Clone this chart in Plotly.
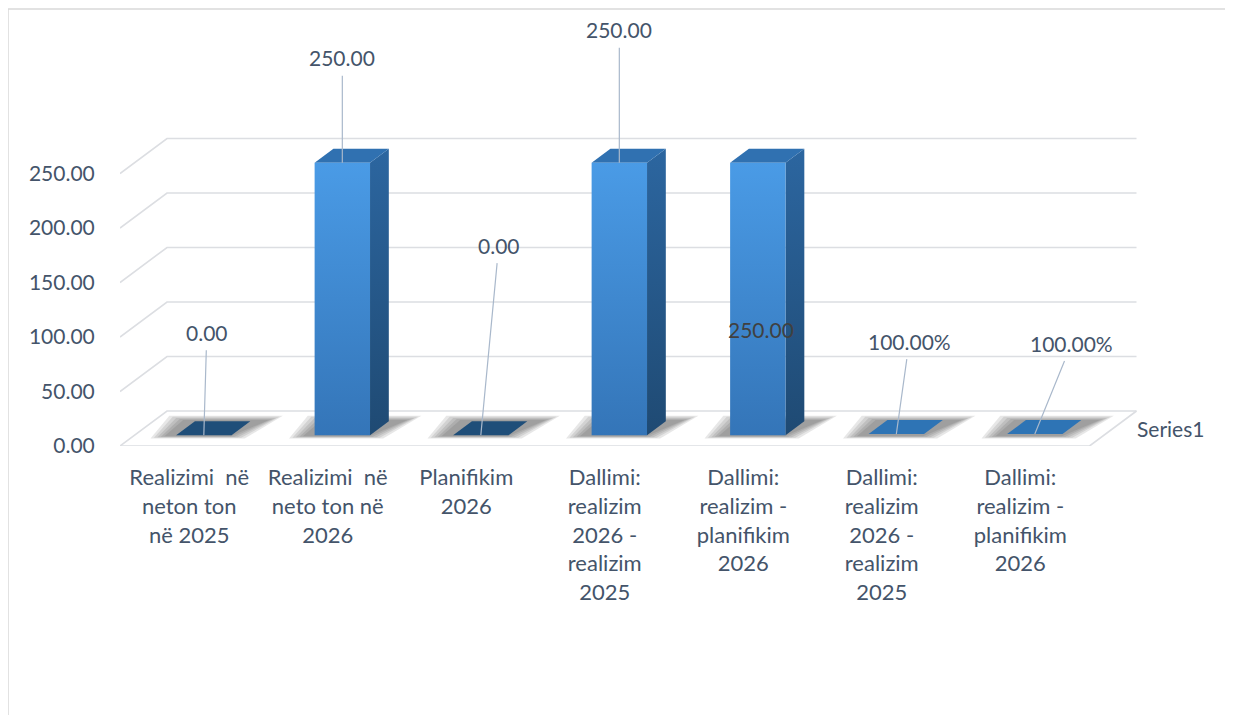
import plotly.graph_objects as go

# ---------------- data ----------------
categories = [
    "Realizimi\u00a0 në<br>neton ton<br>në 2025",
    "Realizimi\u00a0 në<br>neto ton në<br>2026",
    "Planifikim<br>2026",
    "Dallimi:<br>realizim<br>2026 -<br>realizim<br>2025",
    "Dallimi:<br>realizim -<br>planifikim<br>2026",
    "Dallimi:<br>realizim<br>2026 -<br>realizim<br>2025",
    "Dallimi:<br>realizim -<br>planifikim<br>2026",
]
values = [0, 250, 0, 250, 250, 1, 1]
value_formats = [".2f", ".2f", ".2f", ".2f", ".2f", ".2%", ".2%"]
y_ticks = [0, 50, 100, 150, 200, 250]
series_name = "Series1"

# ---------------- geometry / style ----------------
W, H = 1225, 707          # page adds an 8px body margin
L, R, T, B = 112, 93, 2, 269
PX_X, PX_Y = 138.5, 1.09
PW, PH = W - L - R, H - T - B
x_range = [0, PW / PX_X]
y_range = [0, PH / PX_Y]

DX, DY = 47 / PX_X, 35 / PX_Y      # full depth offset in data units
DF, DB, BW = 0.31, 0.40, 0.40        # bar front depth, bar depth, bar width
n = len(categories)

TXT = "#44546A"
GRID = "#DCDEE2"
FONT = "Lato"
FS = 21

fig = go.Figure()

# walls & floor (drawn from tick values)
gx, gy = [], []
for t in y_ticks:
    gx += [0, DX, n + DX, None]
    gy += [t, t + DY, t + DY, None]
gx += [0, n, n + DX, None]
gy += [0, 0, DY, None]
fig.add_trace(go.Scatter(x=gx, y=gy, mode="lines",
                         line=dict(color=GRID, width=1.6),
                         hoverinfo="skip", showlegend=False))

# shadows (soft, several translucent layers)
for i, v in enumerate(values):
    c = i + 0.5
    xl = c - BW / 2 + DX * DF
    xr = c + BW / 2 + DX * DF
    y0 = DY * DF
    for k in range(5):
        e = 0.015 + 0.025 * k
        sx = -0.07
        px = [xl - e + sx, xr + e - 0.02, xr + DX * DB + e + 0.12, xl + DX * DB - e + sx]
        py = [y0 - 1 - 0.5 * k, y0 - 1 - 0.5 * k, y0 + DY * DB + 1 + 1.0 * k, y0 + DY * DB + 1 + 1.0 * k]
        fig.add_trace(go.Scatter(x=px + [px[0]], y=py + [py[0]], mode="lines", fill="toself",
                                 fillcolor="rgba(60,60,60,0.12)", line=dict(width=0),
                                 hoverinfo="skip", showlegend=False))

# bars
for i, v in enumerate(values):
    c = i + 0.5
    xl = c - BW / 2 + DX * DF
    xr = c + BW / 2 + DX * DF
    y0 = DY * DF
    ddx, ddy = DX * DB, DY * DB
    if v > 5:
        # side face
        fig.add_trace(go.Scatter(
            x=[xr, xr + ddx, xr + ddx, xr, xr], y=[y0, y0 + ddy, y0 + ddy + v, y0 + v, y0],
            mode="lines", fill="toself", line=dict(width=0),
            fillgradient=dict(type="vertical", colorscale=[[0, "#1F4A73"], [1, "#2C66A0"]]),
            hoverinfo="skip", showlegend=False))
        # top face
        fig.add_trace(go.Scatter(
            x=[xl, xr, xr + ddx, xl + ddx, xl], y=[y0 + v, y0 + v, y0 + v + ddy, y0 + v + ddy, y0 + v],
            mode="lines", fill="toself", fillcolor="#3071B1", line=dict(width=0),
            hoverinfo="skip", showlegend=False))
        # front face
        fig.add_trace(go.Scatter(
            x=[xl, xr, xr, xl, xl], y=[y0, y0, y0 + v, y0 + v, y0],
            mode="lines", fill="toself", line=dict(width=0),
            fillgradient=dict(type="vertical", colorscale=[[0, "#3475B8"], [1, "#4A9BE6"]]),
            hoverinfo="skip", showlegend=False))
    else:
        col = "#1F4E79" if v == 0 else "#2E74B5"
        fig.add_trace(go.Scatter(
            x=[xl, xr, xr + ddx, xl + ddx, xl], y=[y0 + v, y0 + v, y0 + v + ddy, y0 + v + ddy, y0 + v],
            mode="lines", fill="toself", fillcolor=col, line=dict(width=0),
            hoverinfo="skip", showlegend=False))

# data labels
label_offsets = [(3, -103), (0, -105), (18, -190), (0, -133), None, (13, -93), (37, -91)]
annotations = []
for i, v in enumerate(values):
    c = i + 0.5
    px_ = c + DX * DF
    py_ = DY * DF + v
    txt = format(v, value_formats[i])
    off = label_offsets[i]
    if off is None:
        annotations.append(dict(x=px_, y=py_, xref="x", yref="y", text=txt, showarrow=False,
                                yshift=-167, xshift=3, xanchor="center", yanchor="middle",
                                font=dict(family=FONT, size=FS, color="#404040")))
    else:
        annotations.append(dict(x=px_, y=py_, xref="x", yref="y", text=txt, showarrow=True,
                                ax=off[0], ay=off[1], arrowhead=0, arrowwidth=1.2,
                                arrowcolor="#A9B8CB", borderpad=5,
                                font=dict(family=FONT, size=FS, color=TXT)))

# depth-axis label
annotations.append(dict(x=n + DX / 2, y=DY / 2, xref="x", yref="y", text=series_name,
                        showarrow=False, xanchor="left", yanchor="middle", xshift=22,
                        font=dict(family=FONT, size=FS, color=TXT)))

fig.update_layout(
    width=W, height=H,
    margin=dict(l=L, r=R, t=T, b=B),
    paper_bgcolor="white", plot_bgcolor="white",
    showlegend=False,
    annotations=annotations,
    shapes=[dict(type="rect", xref="paper", yref="paper",
                 x0=-L / PW, x1=1 + (R + 20) / PW,
                 y0=-(B + 30) / PH, y1=1 + (T - 1) / PH,
                 line=dict(color="#D9D9D9", width=1.5), layer="below")],
    xaxis=dict(range=x_range, showgrid=False, zeroline=False, showline=False,
               tickmode="array", tickvals=[i + 0.5 for i in range(n)], ticktext=categories,
               ticks="outside", ticklen=12, tickcolor="rgba(0,0,0,0)",
               tickfont=dict(family=FONT, size=22, color=TXT), tickangle=0,
               fixedrange=True),
    yaxis=dict(range=y_range, showgrid=False, zeroline=False, showline=False,
               tickmode="array", tickvals=y_ticks, tickformat=".2f",
               ticks="outside", ticklen=20, tickcolor="rgba(0,0,0,0)",
               tickfont=dict(family=FONT, size=FS, color=TXT),
               fixedrange=True),
)

fig.write_html("out.html")
